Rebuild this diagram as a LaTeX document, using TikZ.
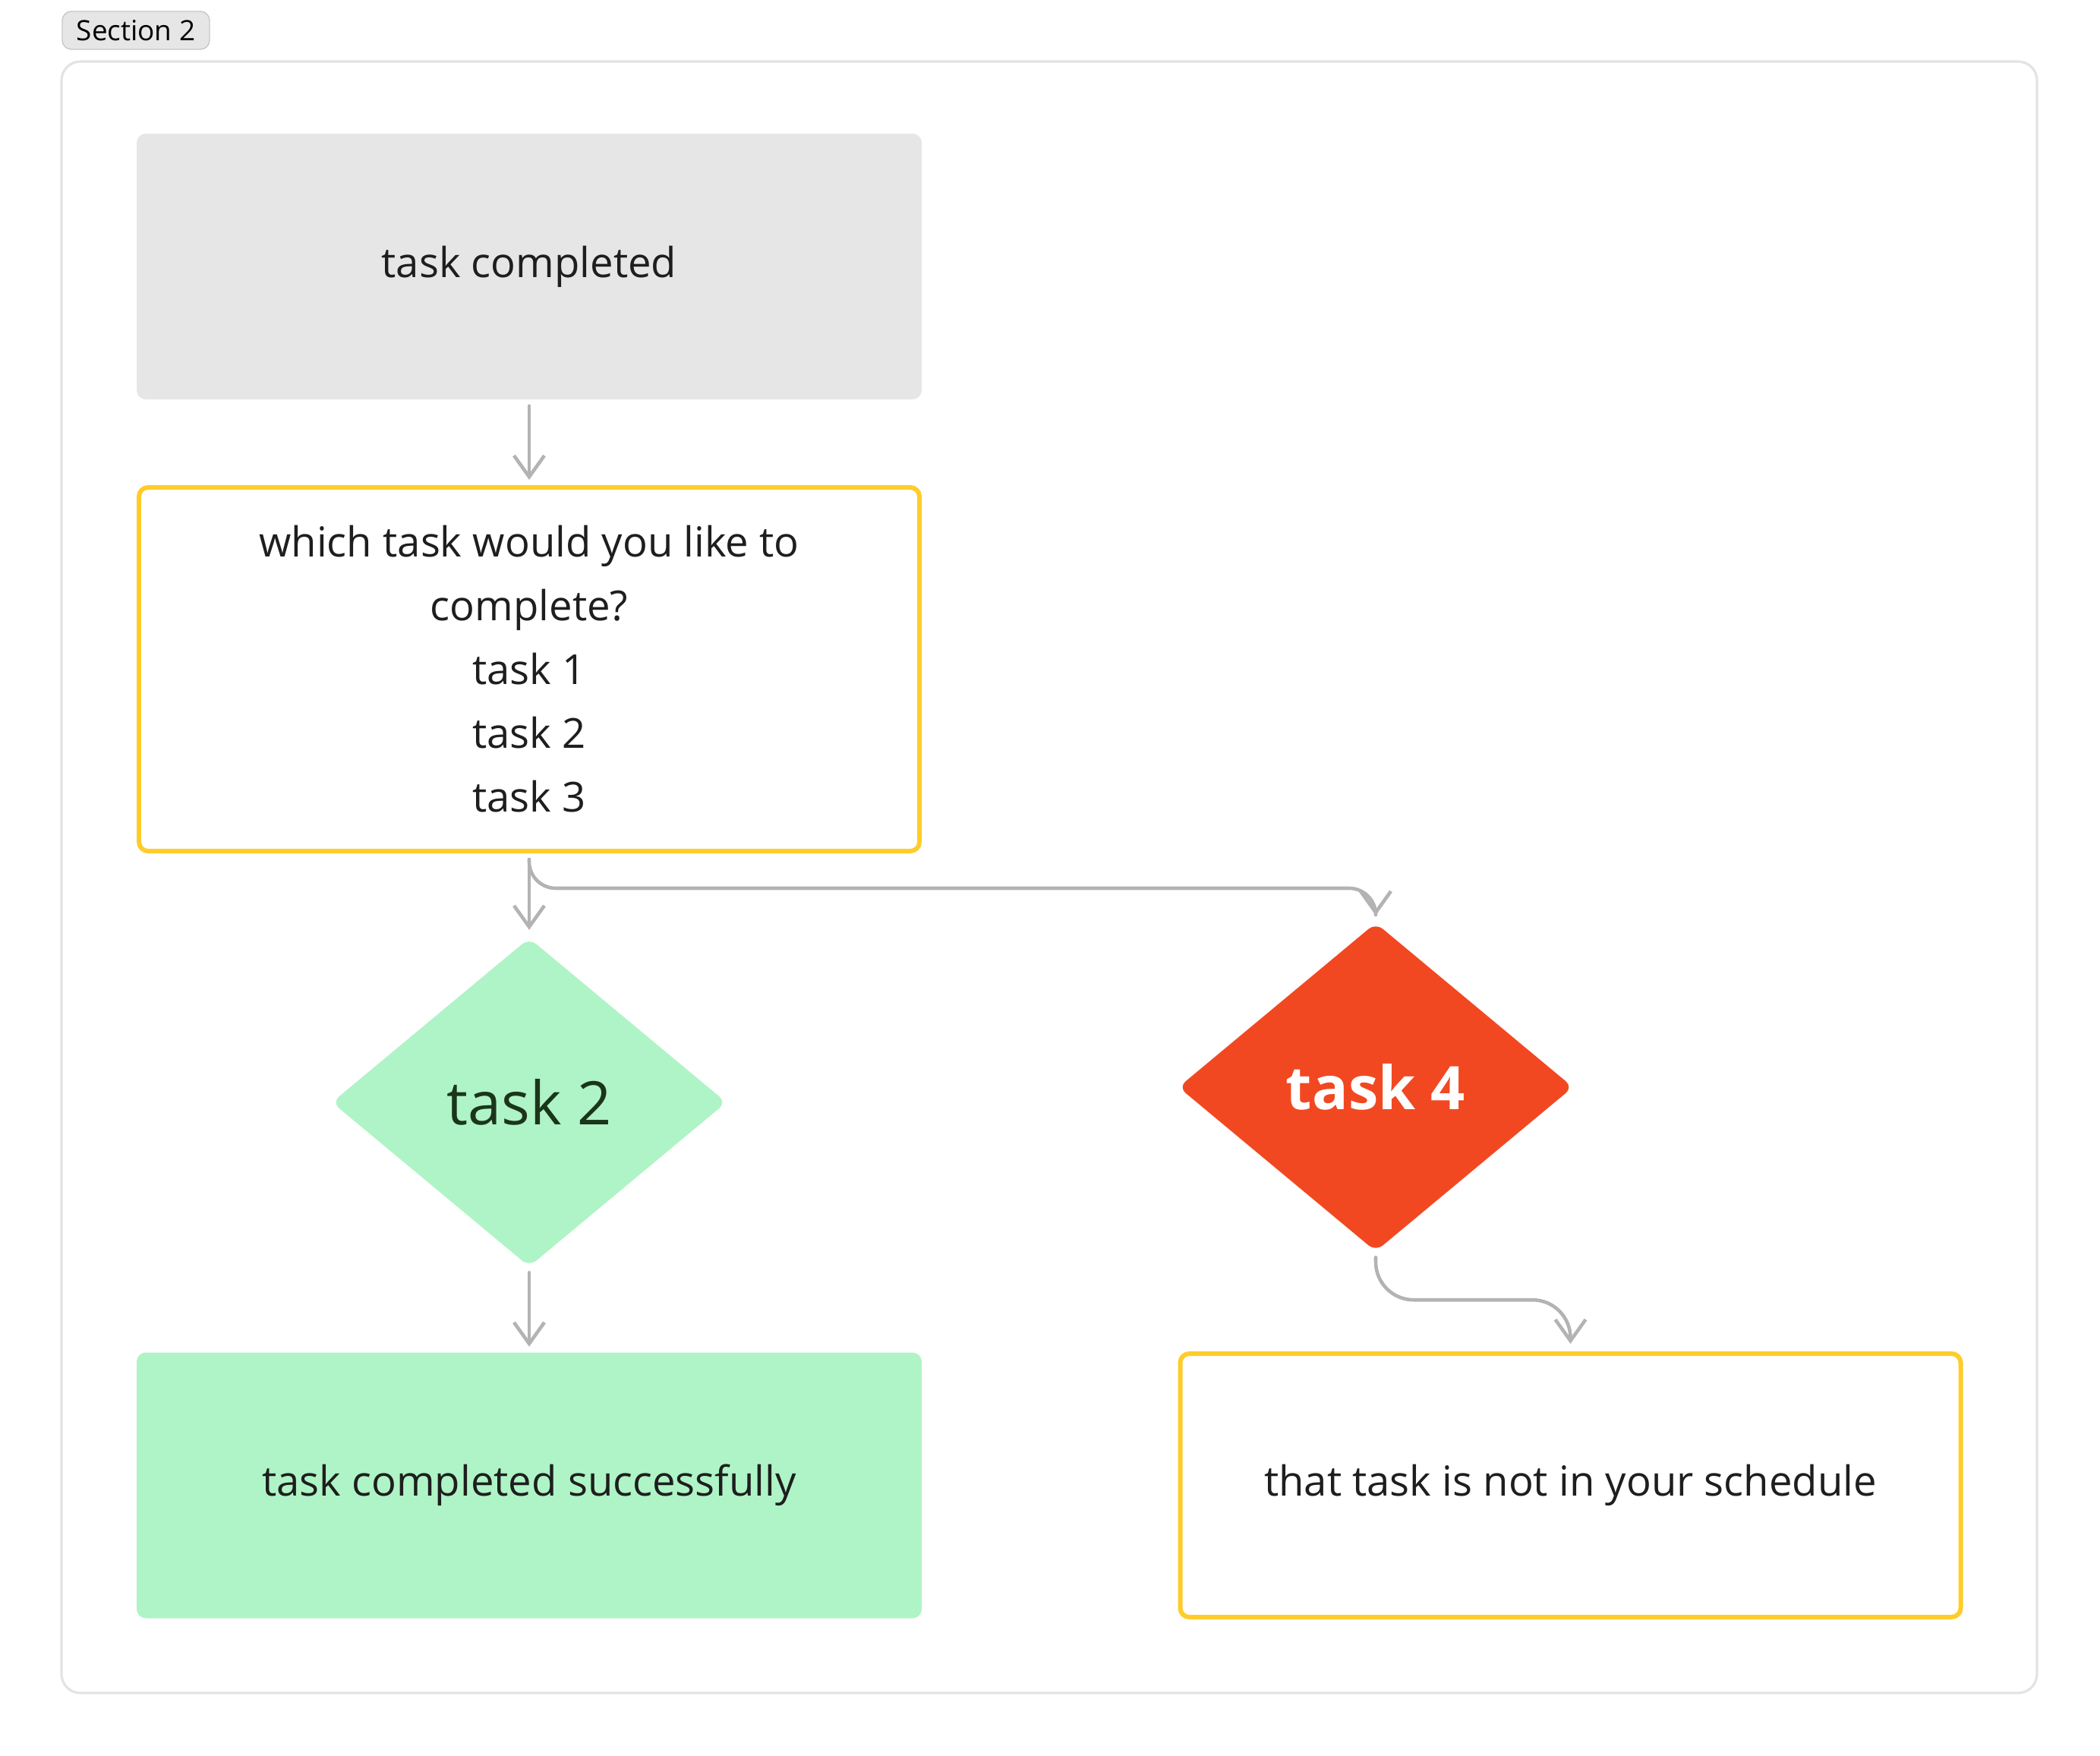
\documentclass[tikz,border=0pt]{standalone}
\usepackage{fontspec}
\setmainfont{Open Sans}
\usepackage{xcolor}
\usepackage{tikz}
\usetikzlibrary{positioning,arrows.meta,shapes.geometric}
\definecolor{ink}{HTML}{1E1E1E}
\definecolor{wire}{HTML}{B3B3B3}
\definecolor{gold}{HTML}{FFCC29}
\definecolor{mint}{HTML}{AFF4C6}
\definecolor{flame}{HTML}{F24822}
\definecolor{pale}{HTML}{E6E6E6}
\definecolor{rim}{HTML}{C8C8C8}
\definecolor{frameline}{HTML}{E3E3E3}

\begin{document}
\begin{tikzpicture}[
  box/.style={minimum width=10.34cm, minimum height=3.5cm, rounded corners=0.12cm, align=center, text=ink, font=\fontsize{15.5}{23.9}\selectfont},
  hl/.style={draw=gold, line width=1.7pt, minimum width=10.28cm},
  dia/.style={diamond, minimum width=5.2cm, minimum height=4.33cm, rounded corners=0.12cm, inner sep=0pt, font=\fontsize{22.5}{26}\selectfont},
  tag/.style={draw=rim, fill=pale, rounded corners=0.12cm, minimum width=1.94cm, minimum height=0.5cm, inner sep=0pt, text=black, font=\fontsize{10.5}{12}\selectfont},
  conn/.style={draw=wire, line width=1.3pt, line cap=round, line join=round, -{Straight Barb[length=0.28cm,width=0.4cm]}}]
\fill[white] (0,0) rectangle (27.66,-23.12);
\useasboundingbox (0,0) rectangle (27.66,-23.12);
\draw[frameline, line width=0.9pt, rounded corners=0.25cm] (0.81,-0.81) rectangle (26.83,-22.30);
\node[tag] (sec) at (1.79,-0.40) {Section 2};
\node[box, fill=pale] (done) at (6.97,-3.51) {task completed};
\node[box, hl, minimum height=4.79cm] (ask) at (6.97,-8.815) {which task would you like to\\complete?\\task 1\\task 2\\task 3};
\node[dia, fill=mint, text=ink!90!green] (t2) at (6.97,-14.52) {task 2};
\node[dia, fill=flame, text=white, font=\fontsize{22.5}{26}\selectfont\bfseries] (t4) at (18.12,-14.32) {task 4};
\node[box, fill=mint] (ok) at (6.97,-19.565) {task completed successfully};
\node[box, hl, minimum height=3.47cm] (miss) at (20.685,-19.565) {that task is not in your schedule};
\draw[conn, shorten <=0.08cm, shorten >=0.07cm] (done.south) -- (ask.north);
\draw[conn, shorten <=0.08cm, shorten >=0.1cm] (ask.south) -- (t2.north);
\draw[conn, rounded corners=0.35cm, shorten <=0.08cm, shorten >=0.09cm] (ask.south) -- ++(0,-0.46) -| (t4.north);
\draw[conn, shorten <=0.07cm, shorten >=0.07cm] (t2.south) -- (ok.north);
\draw[conn, rounded corners=0.5cm, shorten <=0.07cm, shorten >=0.1cm] (t4.south) -- ++(0,-0.63) -| (miss.north);
\end{tikzpicture}
\end{document}
